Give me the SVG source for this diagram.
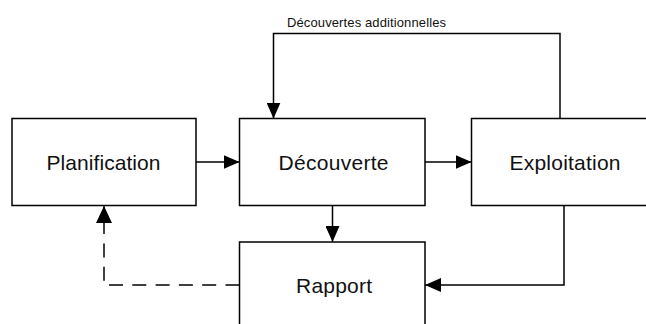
<svg xmlns="http://www.w3.org/2000/svg" width="646" height="324" viewBox="0 0 646 324">
<style>
.box{fill:#fff;stroke:#000;stroke-width:1.5}
.lbl{font-family:"Liberation Sans",Arial,sans-serif;font-size:21px;fill:#111}
.small{font-family:"Liberation Sans",Arial,sans-serif;font-size:13px;fill:#111}
.edge{fill:none;stroke:#000;stroke-width:1.5}
.dash{stroke-dasharray:14 9.3}
</style>
<defs>
<marker id="arr" viewBox="0 0 16 14" refX="16" refY="7" markerWidth="16" markerHeight="14" markerUnits="userSpaceOnUse" orient="auto">
<path d="M0,0 L16,7 L0,14 Z" fill="#000"/>
</marker>
</defs>
<rect width="646" height="324" fill="#fff"/>
<g id="node-planification">
<rect class="box" x="12" y="118.5" width="184" height="87"/>
<text class="lbl" x="46.5" y="170" textLength="114">Planification</text>
</g>
<g id="node-decouverte">
<rect class="box" x="239.5" y="118.5" width="185.5" height="87"/>
<text class="lbl" x="278.5" y="170" textLength="110">Découverte</text>
</g>
<g id="node-exploitation">
<rect class="box" x="471.5" y="118.5" width="200" height="87"/>
<text class="lbl" x="509.5" y="170" textLength="111">Exploitation</text>
</g>
<g id="node-rapport">
<rect class="box" x="239.5" y="242" width="185.5" height="100"/>
<text class="lbl" x="296" y="293" textLength="76">Rapport</text>
</g>
<g id="connectors">
<path class="edge" d="M196,162 H239.5" marker-end="url(#arr)"/>
<path class="edge" d="M425,162 H471.5" marker-end="url(#arr)"/>
<path class="edge" d="M332.5,205.5 V242" marker-end="url(#arr)"/>
<path class="edge" d="M560,118.5 V33.5 H273.5 V118.5" marker-end="url(#arr)"/>
<path class="edge" d="M564,205.5 V285 H425" marker-end="url(#arr)"/>
<path class="edge dash" d="M239.5,285 H104 V206"/>
<path d="M96,223 L104,206 L112,223 Z" fill="#000"/>
<text class="small" x="287" y="26.5" textLength="159">Découvertes additionnelles</text>
</g>
</svg>
